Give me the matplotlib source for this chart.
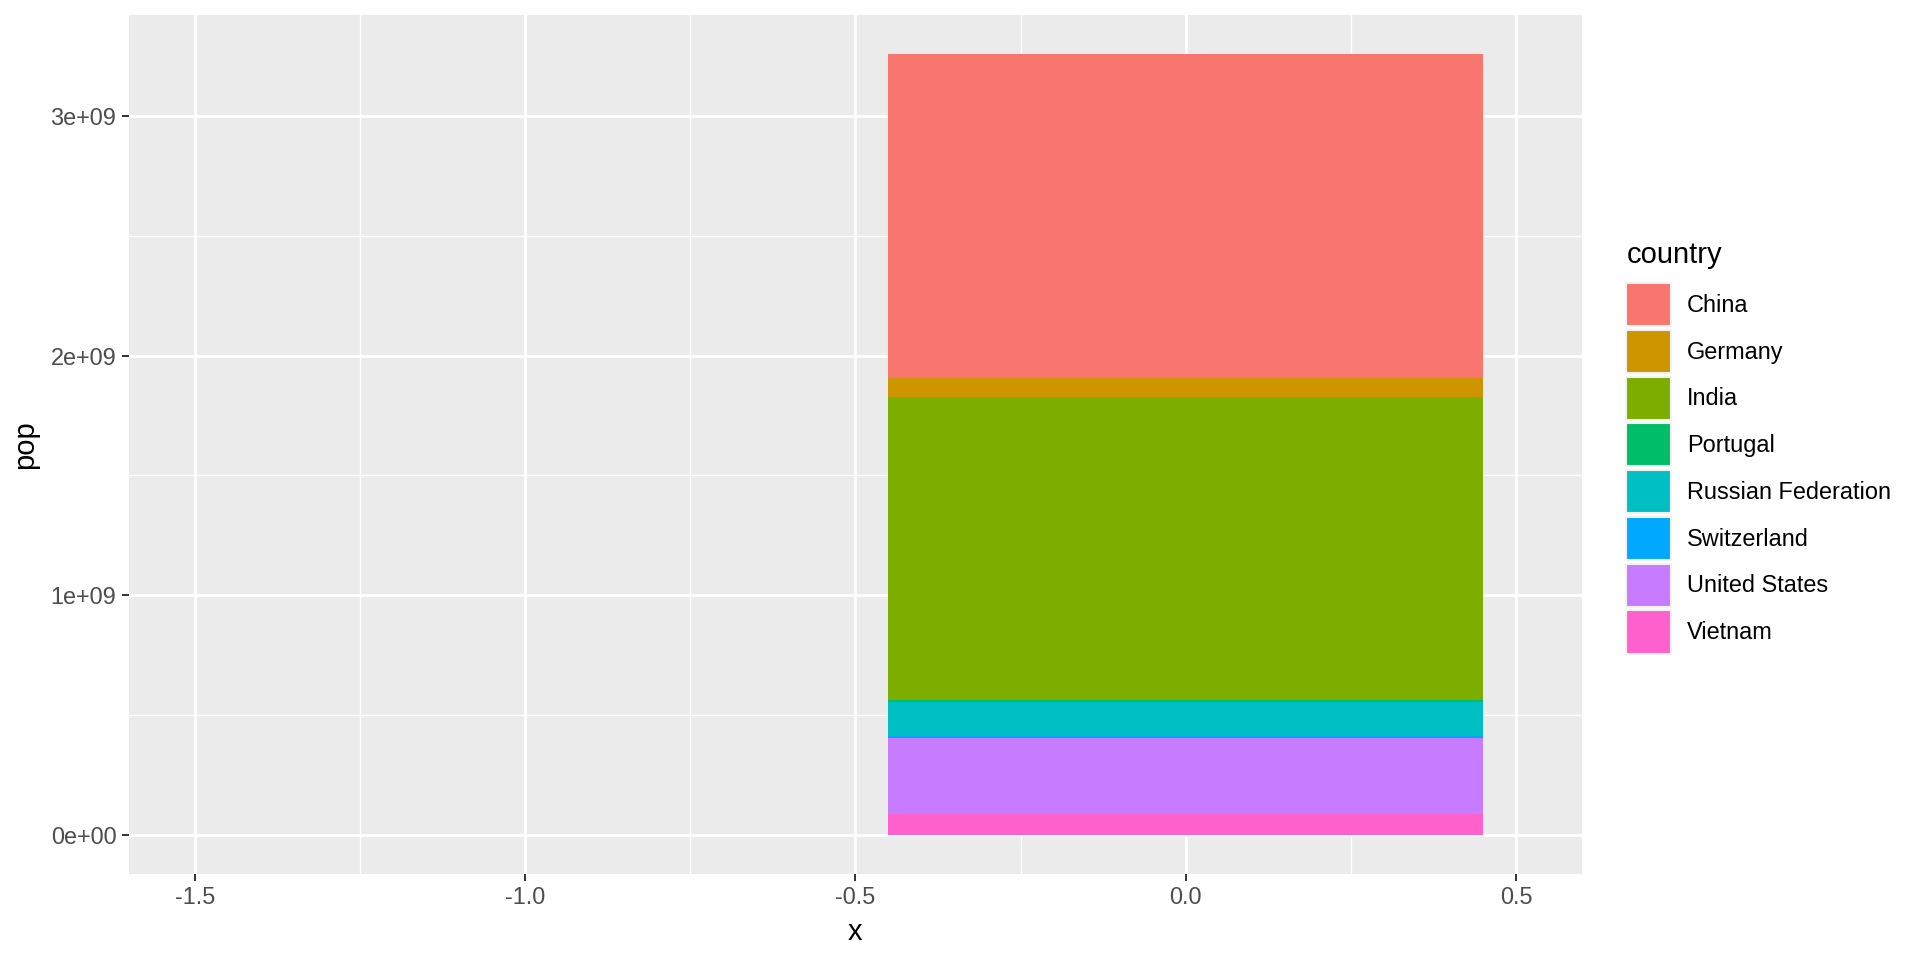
import matplotlib.pyplot as plt
from matplotlib.patches import Patch
import numpy as np

plt.rcParams['font.family'] = ['Liberation Sans', 'DejaVu Sans']

# ---- data (population, one stacked bar) ----
countries = ["China", "Germany", "India", "Portugal",
             "Russian Federation", "Switzerland", "United States", "Vietnam"]
pop = [1.351e9, 80.4e6, 1.2636e9, 10.5e6, 143.2e6, 8.0e6, 314.0e6, 88.8e6]
colors = ["#F8766D", "#CD9600", "#7CAE00", "#00BE67",
          "#00BFC4", "#00A9FF", "#C77CFF", "#FF61CC"]
bar_x = 0.0
x_ticks = [-1.5, -1.0, -0.5, 0.0, 0.5]
y_ticks = [0, 1e9, 2e9, 3e9]
y_ticklabels = ["0e+00", "1e+09", "2e+09", "3e+09"]

fig = plt.figure(figsize=(19.2, 9.6), dpi=100)
ax = fig.add_axes([0.067, 0.0896, 0.757, 0.895])
ax.set_facecolor("#EBEBEB")

# ggplot stacks first level on top -> draw from last to first
bottom = 0.0
for c, p, col in reversed(list(zip(countries, pop, colors))):
    ax.bar(bar_x, p, width=0.9, bottom=bottom, color=col, linewidth=0, zorder=3)
    bottom += p

total = sum(pop)
ax.set_xlim(-1.6, 0.6)
ax.set_ylim(-0.05 * total, 1.05 * total)

ax.set_xticks(x_ticks)
ax.set_xticklabels([f"{v:.1f}" for v in x_ticks])
ax.set_xticks([-1.25, -0.75, -0.25, 0.25], minor=True)
ax.set_yticks(y_ticks)
ax.set_yticklabels(y_ticklabels)
ax.set_yticks([0.5e9, 1.5e9, 2.5e9], minor=True)

ax.grid(which="major", color="white", linewidth=2.0, zorder=1)
ax.grid(which="minor", color="white", linewidth=1.0, zorder=1)
ax.set_axisbelow(True)
for s in ax.spines.values():
    s.set_visible(False)
ax.tick_params(which="major", length=5.3, width=1.4, color="#333333",
               labelsize=16.9, labelcolor="#4D4D4D", pad=3.5)
ax.tick_params(which="minor", length=0)

ax.set_xlabel("x", fontsize=21, labelpad=6)
ax.set_ylabel("pop", fontsize=21, labelpad=8)

# ---- legend ----
fig.text(1627 / 1920, 1 - 263 / 960, "country", fontsize=21,
         ha="left", va="baseline")
handles = [Patch(facecolor=col, edgecolor="#F2F2F2", linewidth=1.5) for col in colors]
leg = fig.legend(handles, countries, loc="upper left",
                 bbox_to_anchor=(1626 / 1920, 1 - 283 / 960), frameon=False,
                 fontsize=16.9, handlelength=1.9,
                 handleheight=2.45, labelspacing=0.155, handletextpad=0.7,
                 borderpad=0, borderaxespad=0)

fig.savefig("out.png", dpi=100)
